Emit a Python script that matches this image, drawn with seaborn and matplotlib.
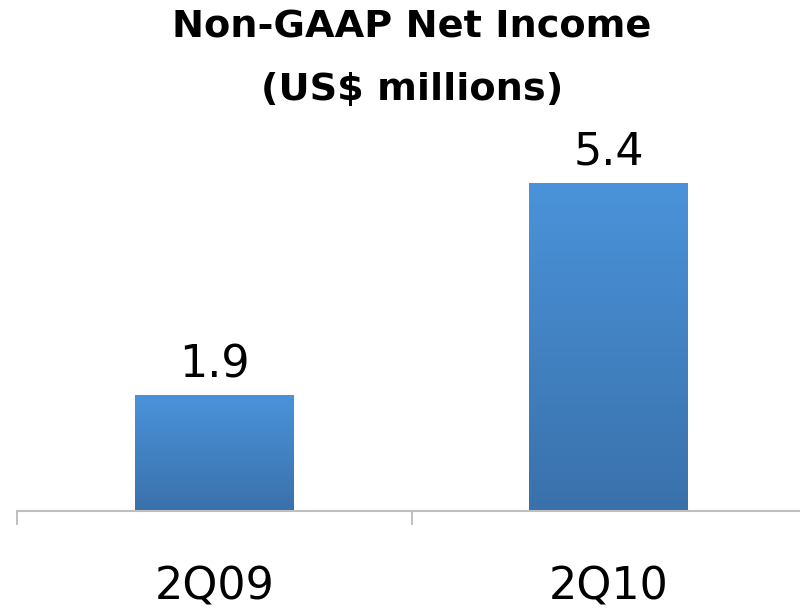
import numpy as np
import pandas as pd
import matplotlib
matplotlib.use("Agg")
import matplotlib.pyplot as plt
import seaborn as sns
from matplotlib.colors import LinearSegmentedColormap

# Quarterly non-GAAP net income, US$ millions
periods = ["2Q09", "2Q10"]
net_income = [1.9, 5.4]
title_lines = ["Non-GAAP Net Income", "(US$ millions)"]

sns.set_style("white")
plt.rcParams["font.family"] = ["DejaVu Sans"]
plt.rcParams["text.color"] = "black"

fig = plt.figure(figsize=(8, 6.09), dpi=100)
ax = fig.add_axes([17 / 800, 1 - 511 / 609, 789 / 800, 364 / 609])

df = pd.DataFrame({"period": periods, "income": net_income})
sns.barplot(data=df, x="period", y="income", color="#4A90D6",
            width=0.403, saturation=1, ax=ax)

# vertical gradient fill for each bar (darker at the base)
cmap = LinearSegmentedColormap.from_list("bar_fill", ["#3A71AB", "#4A93DA"])
grad = np.linspace(0, 1, 256).reshape(-1, 1)
for patch in ax.patches:
    x0, y0 = patch.get_x(), patch.get_y()
    w, h = patch.get_width(), patch.get_height()
    ax.imshow(grad, cmap=cmap, origin="lower", aspect="auto",
              extent=(x0, x0 + w, y0, y0 + h), interpolation="bilinear",
              zorder=patch.get_zorder())
    patch.set_facecolor("none")
    patch.set_edgecolor("none")

ax.set_xlim(-0.5, 1.5)
ax.set_ylim(0, 6)

ax.bar_label(ax.containers[0], labels=[f"{v:.1f}" for v in net_income],
             padding=7, fontsize=32, color="black")

ax.set_xlabel("")
ax.set_ylabel("")
ax.set_yticks([])
ax.set_xticks([-0.5, 0.5, 1.5], minor=True)
ax.tick_params(axis="x", which="major", length=0, pad=39, labelsize=32,
               labelcolor="black")
ax.tick_params(axis="x", which="minor", bottom=True, length=10, width=1.4,
               color="#BFBFBF", direction="out")

for side in ("top", "right", "left"):
    ax.spines[side].set_visible(False)
ax.spines["bottom"].set_color("#BFBFBF")
ax.spines["bottom"].set_linewidth(1.5)

fig.text(0.515, 1 - 38 / 609, title_lines[0], ha="center", va="baseline",
         fontsize=27.5, fontweight="bold", color="black")
fig.text(0.515, 1 - 100 / 609, title_lines[1], ha="center", va="baseline",
         fontsize=27.5, fontweight="bold", color="black")

fig.savefig("out.png", dpi=100)
